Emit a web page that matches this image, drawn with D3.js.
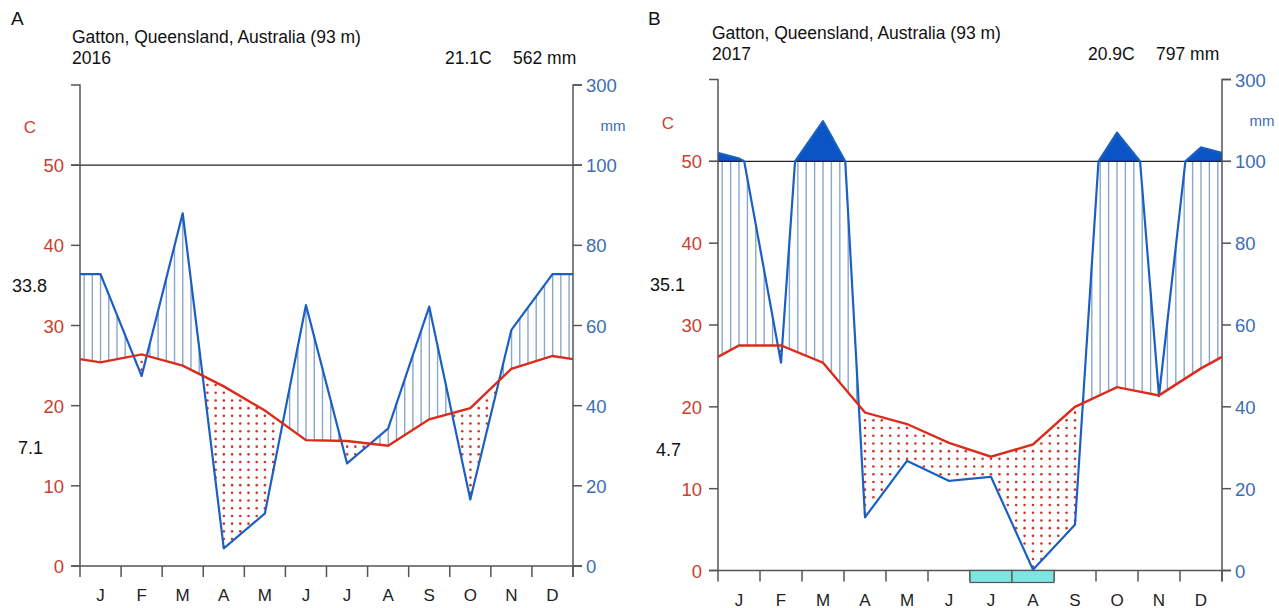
<!DOCTYPE html>
<html>
<head>
<meta charset="utf-8">
<script src="https://cdn.jsdelivr.net/npm/d3@7"></script>
<style>
  body { margin: 0; background: #fff; }
  svg { font-family: "Liberation Sans", Arial, sans-serif; }
</style>
</head>
<body>
<div id="chart"></div>
<script>
// monthly values
var months = ["J", "F", "M", "A", "M", "J", "J", "A", "S", "O", "N", "D"];
var temp2016 = [25.4, 26.4, 25.0, 22.4, 19.4, 15.7, 15.6, 15.0, 18.3, 19.7, 24.6, 26.2];
var prec2016 = [72.8, 47.4, 88.0, 4.4, 13.1, 65.1, 25.6, 34.3, 64.7, 16.6, 58.9, 72.8];
var temp2017 = [27.5, 27.5, 25.4, 19.3, 17.9, 15.6, 13.9, 15.4, 20.0, 22.4, 21.4, 24.7];
var prec2017 = [107, 50.8, 198, 13.0, 26.8, 21.9, 22.9, 0.2, 11.2, 170, 42.6, 134];
var frost2016 = [0, 0, 0, 0, 0, 0, 0, 0, 0, 0, 0, 0];
var frost2017 = [0, 0, 0, 0, 0, 0, 1, 1, 0, 0, 0, 0];
var tempTicks = [0, 10, 20, 30, 40, 50];
var precTicks = [0, 20, 40, 60, 80, 100, 300];
var station = "Gatton, Queensland, Australia (93 m)";

var W = 1279, H = 608;
var svg = d3.select("#chart").append("svg")
    .attr("width", W)
    .attr("height", H);

// precipitation -> temperature units (2 mm per C, 20 mm per C above 100 mm)
function precToT(p) {
    return p <= 100 ? p / 2 : 50 + (p - 100) / 20;
}

function climateDiagram(g, cfg)
{
    var x = d3.scaleLinear().domain([0, 12]).range([cfg.left, cfg.right]);
    var y = d3.scaleLinear().domain([0, 60]).range([cfg.y0, cfg.yTop]);

    // knots: edges get mean of Dec and Jan
    var xs = [0];
    for (var i = 0; i < 12; i++) xs.push(i + 0.5);
    xs.push(12);
    var tEdge = (cfg.temp[0] + cfg.temp[11]) / 2;
    var pEdge = (cfg.prec[0] + cfg.prec[11]) / 2;
    var ts = [tEdge].concat(cfg.temp, [tEdge]);
    var ps = [pEdge].concat(cfg.prec, [pEdge]);
    var tAt = d3.scaleLinear().domain(xs).range(ts);
    var pRaw = d3.scaleLinear().domain(xs).range(ps);
    // interpolate in mm, then squeeze the part above 100
    function pAt(u) { return precToT(pRaw(u)); }

    var dense = d3.range(0, 1201).map(function(k) { return k / 100; });

    // hatching (wet) and dots (dry)
    var sp = cfg.hatch, sy = 7.7;
    var hatch = g.append("g");
    var dots = g.append("g");
    for (var xc = cfg.left + sp / 2; xc < cfg.right; xc += sp) {
        var u = x.invert(xc);
        var t = tAt(u), p = pAt(u);
        if (p > t) {
            hatch.append("line")
                .attr("x1", xc).attr("x2", xc)
                .attr("y1", y(Math.min(p, 50))).attr("y2", y(t))
                .attr("stroke", "#88a7cf")
                .attr("stroke-width", 1.4);
        } else {
            var yt = y(t), yp = y(p);
            for (var yy = cfg.y0 - sy / 2; yy > yt; yy -= sy) {
                if (yy < yp - 1.5 && yy > yt + 1.5) {
                    dots.append("circle")
                        .attr("cx", xc).attr("cy", yy)
                        .attr("r", 1.3)
                        .attr("fill", "#d0342a");
                }
            }
        }
    }

    // solid fill above 100 mm
    g.append("path")
        .datum(dense)
        .attr("fill", "#0a55c6")
        .attr("d", d3.area()
            .x(function(d) { return x(d); })
            .y0(y(50))
            .y1(function(d) { return y(Math.max(pAt(d), 50)); }));

    // 50 C / 100 mm line
    g.append("line")
        .attr("x1", cfg.left - 9).attr("x2", cfg.right + 9)
        .attr("y1", y(50)).attr("y2", y(50))
        .attr("stroke", "#222").attr("stroke-width", 1.2);

    // axes
    var axisCol = "#555";
    g.append("path")
        .attr("d", "M" + (cfg.left - 9) + "," + y(60) + "H" + cfg.left + "V" + cfg.y0)
        .attr("fill", "none").attr("stroke", axisCol).attr("stroke-width", 1.5);
    g.append("path")
        .attr("d", "M" + (cfg.right + 9) + "," + y(60) + "H" + cfg.right + "V" + (cfg.y0 + 11))
        .attr("fill", "none").attr("stroke", axisCol).attr("stroke-width", 1.5);
    g.append("line")
        .attr("x1", cfg.left - 9).attr("x2", cfg.right + 9)
        .attr("y1", cfg.y0).attr("y2", cfg.y0)
        .attr("stroke", axisCol).attr("stroke-width", 1.5);

    g.selectAll(".ltick").data(tempTicks).enter().append("line")
        .attr("x1", cfg.left - 9).attr("x2", cfg.left)
        .attr("y1", function(d) { return y(d); })
        .attr("y2", function(d) { return y(d); })
        .attr("stroke", axisCol).attr("stroke-width", 1.5);
    g.selectAll(".llab").data(tempTicks).enter().append("text")
        .attr("x", cfg.left - 16)
        .attr("y", function(d) { return y(d) + 7; })
        .attr("text-anchor", "end")
        .attr("font-size", 18.5)
        .attr("fill", "#c9412f")
        .text(function(d) { return d; });

    g.selectAll(".rtick").data(precTicks).enter().append("line")
        .attr("x1", cfg.right).attr("x2", cfg.right + 9)
        .attr("y1", function(d) { return y(precToT(d)); })
        .attr("y2", function(d) { return y(precToT(d)); })
        .attr("stroke", axisCol).attr("stroke-width", 1.5);
    g.selectAll(".rlab").data(precTicks).enter().append("text")
        .attr("x", cfg.right + 13)
        .attr("y", function(d) { return y(precToT(d)) + 7; })
        .attr("font-size", 18.5)
        .attr("fill", "#3c6db4")
        .text(function(d) { return d; });

    // month ticks + labels
    g.selectAll(".mtick").data(d3.range(13)).enter().append("line")
        .attr("x1", function(d) { return x(d); })
        .attr("x2", function(d) { return x(d); })
        .attr("y1", cfg.y0).attr("y2", cfg.y0 + 11)
        .attr("stroke", axisCol).attr("stroke-width", 1.5);
    g.selectAll(".mlab").data(months).enter().append("text")
        .attr("x", function(d, i) { return x(i + 0.5); })
        .attr("y", cfg.y0 + 35)
        .attr("text-anchor", "middle")
        .attr("font-size", 17)
        .attr("fill", "#222")
        .text(function(d) { return d; });

    // frost boxes
    cfg.frost.forEach(function(f, i) {
        if (!f) return;
        g.append("rect")
            .attr("x", x(i)).attr("y", cfg.y0)
            .attr("width", x(i + 1) - x(i)).attr("height", 12)
            .attr("fill", "#7ee6e2")
            .attr("stroke", "#555").attr("stroke-width", 1.2);
    });

    // curves
    var line = d3.line()
        .x(function(d) { return x(d[0]); })
        .y(function(d) { return y(d[1]); });
    g.append("path")
        .datum(dense.map(function(u) { return [u, pAt(u)]; }))
        .attr("fill", "none").attr("stroke", "#1c5fc2").attr("stroke-width", 2.2)
        .attr("stroke-linejoin", "round")
        .attr("d", line);
    g.append("path")
        .datum(xs.map(function(v, i) { return [v, ts[i]]; }))
        .attr("fill", "none").attr("stroke", "#dc2a1b").attr("stroke-width", 2.4)
        .attr("d", line);

    // texts
    g.append("text").attr("x", cfg.letterX).attr("y", 25)
        .attr("font-size", 19).attr("fill", "#111").text(cfg.letter);
    g.append("text").attr("x", cfg.titleX).attr("y", cfg.titleY)
        .attr("font-size", 17.5).attr("fill", "#111").text(station);
    g.append("text").attr("x", cfg.titleX).attr("y", cfg.titleY + 21)
        .attr("font-size", 17.5).attr("fill", "#111").text(cfg.year);
    g.append("text").attr("x", cfg.meanX).attr("y", cfg.titleY + 21)
        .attr("font-size", 17.5).attr("fill", "#111").text(cfg.meanT);
    g.append("text").attr("x", cfg.meanX + 68).attr("y", cfg.titleY + 21)
        .attr("font-size", 17.5).attr("fill", "#111").text(cfg.totalP);

    g.append("text").attr("x", cfg.left - 50).attr("y", y(54))
        .attr("text-anchor", "middle")
        .attr("font-size", 17).attr("fill", "#c9412f").text("C");
    g.append("text").attr("x", cfg.right + 40).attr("y", y(54.3))
        .attr("text-anchor", "middle")
        .attr("font-size", 15).attr("fill", "#3c6db4").text("mm");

    g.append("text").attr("x", cfg.left - 33).attr("y", y(35) + 7)
        .attr("text-anchor", "end")
        .attr("font-size", 18).attr("fill", "#111").text(cfg.tMax);
    g.append("text").attr("x", cfg.left - 37).attr("y", y(14.8) + 7)
        .attr("text-anchor", "end")
        .attr("font-size", 18).attr("fill", "#111").text(cfg.tMin);
}

climateDiagram(svg.append("g"), {
    letter: "A", letterX: 11, titleX: 72, titleY: 43, meanX: 445,
    left: 80, right: 573, y0: 566, yTop: 85, hatch: 8.22,
    temp: temp2016, prec: prec2016, frost: frost2016,
    year: "2016", meanT: "21.1C", totalP: "562 mm", tMax: "33.8", tMin: "7.1"
});

climateDiagram(svg.append("g"), {
    letter: "B", letterX: 648, titleX: 712, titleY: 39, meanX: 1088,
    left: 718, right: 1222, y0: 570.5, yTop: 79.5, hatch: 8.4,
    temp: temp2017, prec: prec2017, frost: frost2017,
    year: "2017", meanT: "20.9C", totalP: "797 mm", tMax: "35.1", tMin: "4.7"
});
</script>
</body>
</html>
